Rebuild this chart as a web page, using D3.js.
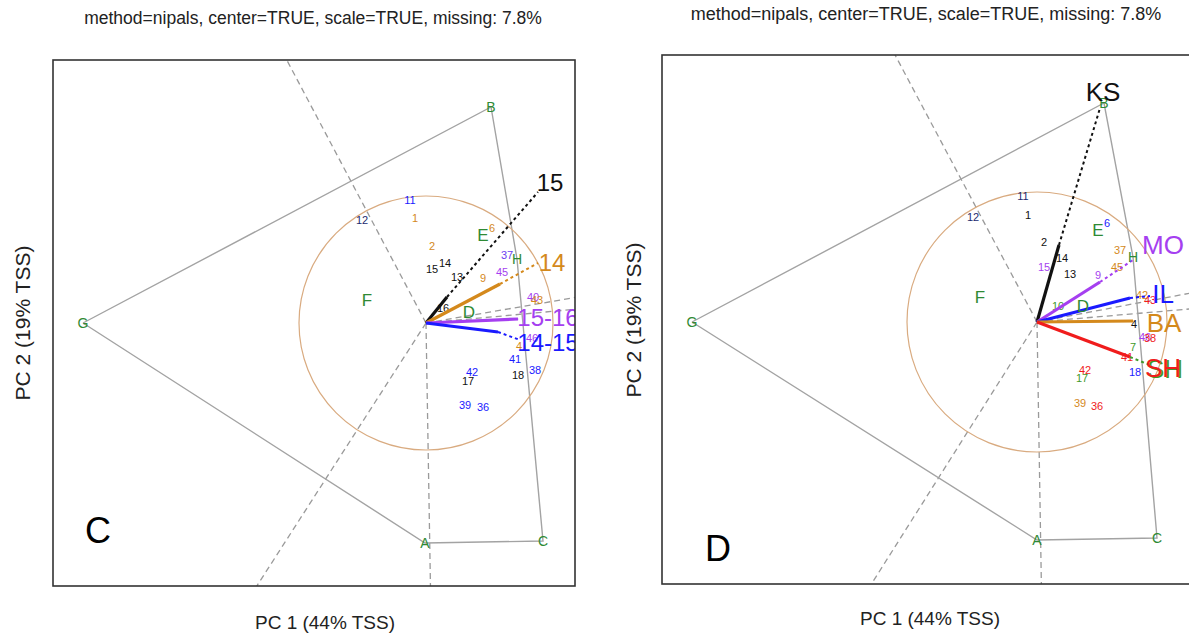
<!DOCTYPE html>
<html>
<head>
<meta charset="utf-8">
<script src="https://cdn.jsdelivr.net/npm/d3@7"></script>
<style>
  body { margin: 0; background: #fff; }
  text { font-family: "Liberation Sans", Arial, sans-serif; }
</style>
</head>
<body>
<svg id="chart" width="1189" height="636"></svg>
<script>
// ---------- data ----------
const subtitle = "method=nipals, center=TRUE, scale=TRUE, missing: 7.8%";
const xAxisTitle = "PC 1 (44% TSS)";
const yAxisTitle = "PC 2 (19% TSS)";

// biplot extents (PC units)
const xDomainC = [-3.73, 1.49];
const yDomainC = [-2.63, 2.63];
const xDomainD = [-3.75, 1.53];
const yDomainD = [-2.62, 2.67];

// genotype scores
const genotypes = ["A", "B", "C", "D", "E", "F", "G", "H"];
const genoPC1_C = [-0.01, 0.65, 1.17, 0.43, 0.57, -0.59, -3.43, 0.91];
const genoPC2_C = [-2.20, 2.16, -2.18, 0.11, 0.88, 0.23, 0.00, 0.64];
const genoPC1_D = [0.00, 0.67, 1.20, 0.46, 0.61, -0.57, -3.45, 0.96];
const genoPC2_D = [-2.18, 2.19, -2.16, 0.16, 0.92, 0.25, 0.00, 0.65];
const hullOrder = ["G", "B", "H", "C", "A"];

// environment scores, panel C
const envC = ["11", "12", "1", "6", "2", "15", "14", "13", "9", "45", "37", "16", "40", "43", "46", "4", "41", "18", "38", "42", "17", "39", "36"];
const envPC1_C = [-0.16, -0.64, -0.11, 0.66, 0.06, 0.06, 0.19, 0.31, 0.57, 0.76, 0.81, 0.17, 1.07, 1.11, 1.06, 0.93, 0.89, 0.92, 1.09, 0.46, 0.42, 0.39, 0.57];
const envPC2_C = [1.23, 1.03, 1.05, 0.95, 0.77, 0.54, 0.60, 0.46, 0.45, 0.51, 0.68, 0.15, 0.26, 0.23, -0.15, -0.23, -0.36, -0.52, -0.47, -0.49, -0.58, -0.82, -0.84];
const envGroupC = ["y1", "y5", "y3", "y3", "y3", "y2", "y2", "y2", "y3", "y4", "y6", "y2", "y4", "y3", "y4", "y3", "y1", "y2", "y1", "y1", "y2", "y1", "y1"];

// environment scores, panel D
const envD = ["11", "12", "1", "6", "2", "14", "15", "13", "9", "45", "37", "10", "42", "43", "4", "46", "38", "7", "41", "18", "42", "17", "39", "36"];
const envPC1_D = [-0.14, -0.64, -0.09, 0.70, 0.07, 0.25, 0.07, 0.33, 0.61, 0.80, 0.83, 0.21, 1.05, 1.13, 0.97, 1.08, 1.13, 0.96, 0.90, 0.98, 0.48, 0.45, 0.43, 0.60];
const envPC2_D = [1.26, 1.05, 1.07, 0.99, 0.80, 0.64, 0.55, 0.48, 0.47, 0.55, 0.72, 0.16, 0.27, 0.22, -0.02, -0.15, -0.16, -0.25, -0.35, -0.50, -0.48, -0.56, -0.81, -0.84];
const envGroupD = ["y5", "y5", "y2", "y1", "y2", "y2", "y4", "y2", "y4", "y3", "y3", "y7", "y3", "y8", "y2", "y4", "y8", "y7", "y8", "y1", "y8", "y7", "y3", "y8"];

// environment-group vectors, panel C
const vecC = ["15", "14", "15-16", "14-15"];
const vecPC1_C = [0.21, 0.74, 0.92, 0.72];
const vecPC2_C = [0.26, 0.39, 0.04, -0.09];
const vecExtPC1_C = [1.12, 1.12, 0.92, 0.94];
const vecExtPC2_C = [1.31, 0.60, 0.04, -0.17];
const vecLabPC1_C = [1.24, 1.26, 1.22, 1.22];
const vecLabPC2_C = [1.41, 0.61, 0.06, -0.19];
const vecGroupC = ["y2", "y3", "y4", "y1"];
const vecExtGroupC = ["y2", "y3", "y4", "y1"];

// location vectors, panel D
const vecD = ["KS", "MO", "IL", "BA", "SH"];
const vecPC1_D = [0.22, 0.63, 0.93, 0.96, 0.93];
const vecPC2_D = [0.77, 0.40, 0.24, 0.01, -0.35];
const vecExtPC1_D = [0.63, 0.96, 1.13, 0.96, 1.13];
const vecExtPC2_D = [2.14, 0.62, 0.26, 0.01, -0.43];
const vecLabPC1_D = [0.66, 1.26, 1.26, 1.27, 1.26];
const vecLabPC2_D = [2.30, 0.77, 0.28, -0.01, -0.46];
const vecGroupD = ["y2", "y4", "y1", "y3", "y8"];
const vecExtGroupD = ["y2", "y4", "y1", "y3", "y7"];

const circleRadiusC = 1.27;
const circleRadiusD = 1.30;

// ---------- styling ----------
const palette = {
  y1: "#1a1aff", y2: "#111111", y3: "#d4891c", y4: "#a53ff0",
  y5: "#1c2a6e", y6: "#6b3ef0", y7: "#3f9a2a", y8: "#f01c1c"
};
const genoColor = "#2f8a34";
const rayColor = "#9a9a9a";
const hullColor = "#a3a3a3";
const circleColor = "#d9ab80";

const panels = [
  {
    key: "C", box: [53, 60, 575, 586], xDom: xDomainC, yDom: yDomainC,
    gx: genoPC1_C, gy: genoPC2_C,
    env: envC, ex: envPC1_C, ey: envPC2_C, eg: envGroupC,
    vec: vecC, vx: vecPC1_C, vy: vecPC2_C, vex: vecExtPC1_C, vey: vecExtPC2_C,
    vlx: vecLabPC1_C, vly: vecLabPC2_C, vg: vecGroupC, veg: vecExtGroupC,
    radius: circleRadiusC, vecFont: 24,
    title: [313, 18, 17.5], xlab: [325, 622], ylab: [22, 323], tag: [98, 530]
  },
  {
    key: "D", box: [662, 55, 1190, 584], xDom: xDomainD, yDom: yDomainD,
    gx: genoPC1_D, gy: genoPC2_D,
    env: envD, ex: envPC1_D, ey: envPC2_D, eg: envGroupD,
    vec: vecD, vx: vecPC1_D, vy: vecPC2_D, vex: vecExtPC1_D, vey: vecExtPC2_D,
    vlx: vecLabPC1_D, vly: vecLabPC2_D, vg: vecGroupD, veg: vecExtGroupD,
    radius: circleRadiusD, vecFont: 26,
    title: [926, 14, 18], xlab: [930, 618], ylab: [633, 320], tag: [718, 548]
  }
];

const svg = d3.select("#chart");

// rays from the origin perpendicular to each side of the convex hull
function hullRays(hull, xDom, yDom) {
  return hull.map((p, i) => {
    const q = hull[(i + 1) % hull.length];
    let nx = q[1] - p[1], ny = -(q[0] - p[0]);
    if (nx * p[0] + ny * p[1] < 0) { nx = -nx; ny = -ny; }
    const ts = [];
    if (nx > 0) ts.push(xDom[1] / nx);
    if (nx < 0) ts.push(xDom[0] / nx);
    if (ny > 0) ts.push(yDom[1] / ny);
    if (ny < 0) ts.push(yDom[0] / ny);
    const t = Math.min(...ts);
    return [nx * t, ny * t];
  });
}

panels.forEach(P => {
  const [x0, y0, x1, y1] = P.box;
  const x = d3.scaleLinear().domain(P.xDom).range([x0, x1]);
  const y = d3.scaleLinear().domain(P.yDom).range([y1, y0]);

  // titles and axis labels
  svg.append("text").attr("x", P.title[0]).attr("y", P.title[1])
    .attr("text-anchor", "middle").attr("dominant-baseline", "central")
    .attr("font-size", P.title[2]).attr("fill", "#222").text(subtitle);
  svg.append("text").attr("x", P.xlab[0]).attr("y", P.xlab[1])
    .attr("text-anchor", "middle").attr("dominant-baseline", "central")
    .attr("font-size", 19).attr("fill", "#222").text(xAxisTitle);
  svg.append("text")
    .attr("transform", `translate(${P.ylab[0]},${P.ylab[1]}) rotate(-90)`)
    .attr("text-anchor", "middle").attr("dominant-baseline", "central")
    .attr("font-size", 21).attr("fill", "#222").text(yAxisTitle);

  const clipId = "clip" + P.key;
  svg.append("clipPath").attr("id", clipId).append("rect")
    .attr("x", x0).attr("y", y0).attr("width", x1 - x0).attr("height", y1 - y0);
  const g = svg.append("g").attr("clip-path", `url(#${clipId})`);

  const gIndex = name => genotypes.indexOf(name);
  const hull = hullOrder.map(n => [P.gx[gIndex(n)], P.gy[gIndex(n)]]);

  // sector rays
  g.selectAll(".ray").data(hullRays(hull, P.xDom, P.yDom)).join("line")
    .attr("x1", x(0)).attr("y1", y(0))
    .attr("x2", d => x(d[0])).attr("y2", d => y(d[1]))
    .attr("stroke", rayColor).attr("stroke-width", 1.3)
    .attr("stroke-dasharray", "6,4");

  // polygon
  g.append("path")
    .attr("d", d3.line().x(d => x(d[0])).y(d => y(d[1]))(hull.concat([hull[0]])))
    .attr("fill", "none").attr("stroke", hullColor).attr("stroke-width", 1.4);

  // circle
  g.append("circle").attr("cx", x(0)).attr("cy", y(0))
    .attr("r", x(P.radius) - x(0))
    .attr("fill", "none").attr("stroke", circleColor).attr("stroke-width", 1.2);

  // environment labels
  g.selectAll(".env").data(P.env.map((t, i) => ({ t, x: P.ex[i], y: P.ey[i], c: P.eg[i] })))
    .join("text")
    .attr("x", d => x(d.x)).attr("y", d => y(d.y))
    .attr("text-anchor", "middle").attr("dominant-baseline", "central")
    .attr("font-size", 11).attr("fill", d => palette[d.c]).text(d => d.t);

  // vectors
  const vdat = P.vec.map((t, i) => ({
    t, x: P.vx[i], y: P.vy[i], ex: P.vex[i], ey: P.vey[i],
    lx: P.vlx[i], ly: P.vly[i], c: palette[P.vg[i]], ec: palette[P.veg[i]]
  }));
  g.selectAll(".vext").data(vdat).join("line")
    .attr("x1", d => x(d.x)).attr("y1", d => y(d.y))
    .attr("x2", d => x(d.ex)).attr("y2", d => y(d.ey))
    .attr("stroke", d => d.ec).attr("stroke-width", 2)
    .attr("stroke-dasharray", "3,3");
  g.selectAll(".vsol").data(vdat).join("line")
    .attr("x1", x(0)).attr("y1", y(0))
    .attr("x2", d => x(d.x)).attr("y2", d => y(d.y))
    .attr("stroke", d => d.c).attr("stroke-width", 3.2)
    .attr("stroke-linecap", "butt");

  // genotype labels
  g.selectAll(".geno").data(genotypes.map((t, i) => ({ t, x: P.gx[i], y: P.gy[i] })))
    .join("text")
    .attr("x", d => x(d.x)).attr("y", d => y(d.y))
    .attr("text-anchor", "middle").attr("dominant-baseline", "central")
    .attr("font-size", d => "DEF".includes(d.t) ? 17 : 14)
    .attr("fill", genoColor).text(d => d.t);

  // vector labels (a second tint sits behind where extension and label colours differ)
  g.selectAll(".vlab2").data(vdat.filter(d => d.c !== d.ec)).join("text")
    .attr("x", d => x(d.lx) + 2).attr("y", d => y(d.ly) + 1)
    .attr("text-anchor", "middle").attr("dominant-baseline", "central")
    .attr("font-size", P.vecFont).attr("fill", d => d.ec).text(d => d.t);
  g.selectAll(".vlab").data(vdat).join("text")
    .attr("x", d => x(d.lx)).attr("y", d => y(d.ly))
    .attr("text-anchor", "middle").attr("dominant-baseline", "central")
    .attr("font-size", P.vecFont).attr("fill", d => d.c).text(d => d.t);

  // frame
  svg.append("rect").attr("x", x0).attr("y", y0)
    .attr("width", x1 - x0).attr("height", y1 - y0)
    .attr("fill", "none").attr("stroke", "#333").attr("stroke-width", 1.6);

  // panel tag
  svg.append("text").attr("x", P.tag[0]).attr("y", P.tag[1])
    .attr("text-anchor", "middle").attr("dominant-baseline", "central")
    .attr("font-size", 36).attr("fill", "#000").text(P.key);
});
</script>
</body>
</html>
